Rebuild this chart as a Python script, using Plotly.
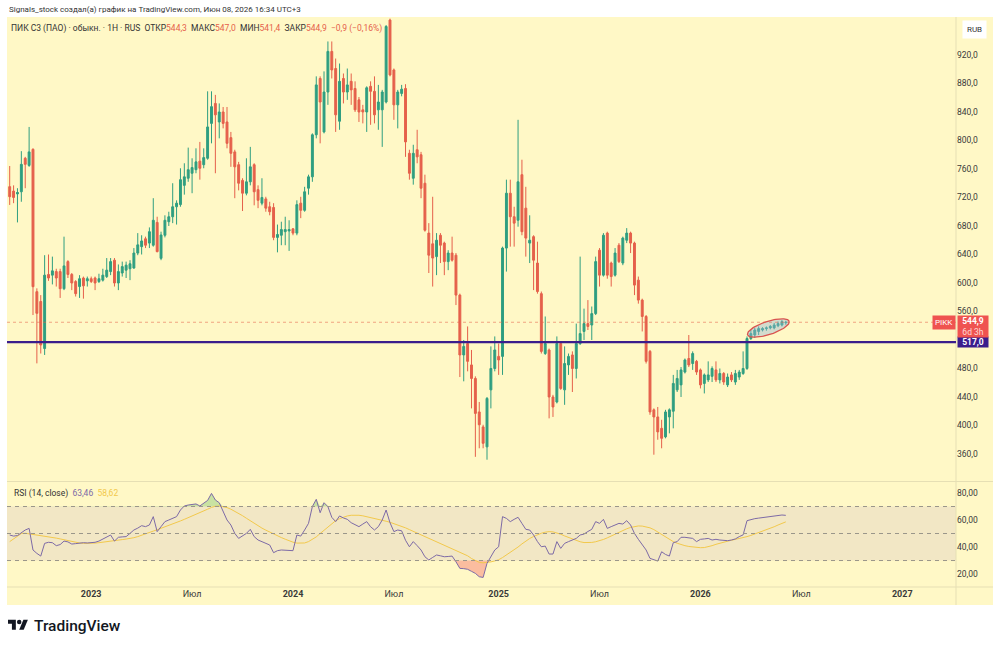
import numpy as np
import pandas as pd
import plotly.graph_objects as go

W, H = 1000, 646

# ---------------- data ----------------
first_week = "2022-08-08"

opens = [735.2, 729, 725, 728, 775, 765, 787.6, 587.8, 574, 508,
         612, 611, 616, 616, 592, 630, 612, 602, 595, 607,
         603, 606, 607, 602, 604, 609, 616, 632, 600, 614,
         618, 620, 621, 642, 651, 662, 656, 653, 685, 634.6,
         667, 686, 693, 707, 710, 737, 747, 754, 759, 771,
         766, 775, 824, 852, 826, 840, 826, 804, 784, 766,
         744, 726, 742, 766, 731, 712, 718, 707, 706, 664,
         667, 672, 673, 676, 670, 712, 702, 733, 749, 808,
         887, 812, 868, 925, 901, 827, 887, 868, 883, 873,
         857, 843, 840, 876, 869, 843, 843, 854, 969, 899,
         850, 866, 873, 782, 747, 787, 780, 740, 670, 655,
         637, 667, 656, 630, 642, 639, 583, 499, 515, 485,
         466, 419, 398, 370, 450, 480, 497, 497, 649, 726,
         693, 688, 752, 705, 656, 665, 628, 585, 501, 506,
         440, 433, 515, 450, 485, 499, 480, 515, 532, 543,
         541, 557, 646, 611, 670, 628, 611, 653, 628, 660,
         670, 656, 604, 576, 553, 504, 422, 412, 396, 384,
         412, 420, 450, 457, 475, 494, 487, 490, 478, 459,
         464, 469, 478, 464, 473, 457, 471, 461, 468, 473,
         480, 522, 527, 532, 534, 536, 537, 537, 540, 541,
         544.3]

highs = [764.2, 737, 733, 785, 777, 819, 789, 592.5, 583, 639,
         640, 637, 620, 620, 665, 632, 614, 604, 611, 609,
         609, 609, 609, 613, 620, 635, 635, 635, 626, 630,
         630, 632, 649, 670, 667, 665, 678, 719, 693, 672,
         695, 700, 740, 716, 761, 768, 790, 775, 789, 798,
         789, 869, 869, 864, 852, 847, 847, 812, 787, 770,
         747, 775, 791, 768, 737, 747, 721, 714, 712, 682,
         686, 693, 688, 677, 716, 721, 735, 752, 810, 890,
         890, 897, 939, 939, 915, 908, 894, 901, 894, 883,
         861, 850, 876, 883, 890, 878, 871, 962, 971, 901,
         871, 878, 879, 787, 794, 815, 784, 752, 684, 721,
         670, 670, 658, 646, 665, 642, 585, 520, 539, 506,
         469, 433, 401, 440, 511, 525, 515, 651, 745, 745,
         707, 829, 773, 735, 695, 667, 658, 588, 553, 508,
         443, 525, 518, 511, 501, 504, 543, 637, 564, 576,
         567, 637, 649, 670, 672, 630, 649, 656, 665, 677,
         672, 658, 609, 578, 555, 506, 424, 426, 408, 422,
         424, 471, 478, 482, 494, 527, 504, 492, 480, 473,
         490, 483, 490, 480, 475, 473, 475, 478, 478, 504,
         525, 534, 537, 539, 538, 539, 541, 544, 546, 548,
         547.0]

lows = [709.5, 712, 685, 714, 733, 763, 555, 487.2, 501, 499,
        603, 598, 595, 579, 590, 607, 590, 581, 579, 578,
        595, 600, 590, 600, 602, 607, 611, 595, 590, 609,
        607, 604, 620, 639, 640, 649, 649, 651, 643, 632,
        664, 680, 684, 682, 707, 724, 742, 726, 754, 745,
        761, 773, 796, 754, 803, 817, 789, 763, 719, 730,
        701, 723, 737, 709, 705, 709, 700, 695, 660, 643,
        653, 653, 645, 667, 667, 691, 700, 724, 742, 803,
        796, 810, 850, 887, 812, 815, 852, 857, 850, 840,
        826, 824, 812, 822, 824, 815, 791, 852, 890, 829,
        817, 862, 777, 745, 738, 768, 719, 672, 614, 595,
        611, 628, 611, 618, 630, 569, 468, 462, 476, 424,
        356, 368, 368, 352, 424, 476, 471, 471, 616, 651,
        651, 679, 667, 637, 628, 590, 585, 501, 499, 410,
        412, 431, 450, 429, 471, 447, 466, 513, 520, 534,
        520, 555, 595, 609, 606, 595, 609, 628, 625, 656,
        642, 583, 571, 532, 487, 415, 359, 380, 368, 382,
        389, 396, 447, 440, 473, 482, 478, 471, 452, 445,
        461, 461, 461, 459, 457, 454, 461, 457, 464, 471,
        478, 520, 523, 527, 532, 533, 535, 535, 538, 539,
        541.4]

closes = [721.1, 720, 727, 766.5, 766.5, 784, 594.8, 557.4, 513, 611,
          607, 617, 607, 592, 624, 612, 600, 585, 606, 596,
          606, 602, 600, 606, 611, 618, 630, 600, 616, 623,
          625, 627, 642, 653.5, 659, 653, 672, 688, 644, 667.4,
          688, 693, 707, 712, 745, 749, 759, 762, 770, 761,
          776, 819, 847.5, 836, 840, 824, 796, 782, 763, 740,
          726, 742, 763, 728, 716, 720, 705, 700, 664, 668,
          675, 675, 675, 670, 710, 702, 728, 749, 808, 878,
          854, 868, 925, 899, 836, 883, 868, 878, 871, 843,
          840, 840, 874, 869, 836, 854, 868, 960, 892, 850,
          868, 872, 798, 754, 782, 777, 733, 674, 639, 635,
          660, 653, 630, 642, 632, 583, 499, 511, 490, 466,
          417, 401, 375, 438, 480, 506, 492, 649, 726, 693,
          684, 742, 672, 663, 660, 632, 588, 504, 515, 440,
          426, 515, 452, 487, 497, 480, 515, 529, 543, 539,
          557, 630, 611, 667, 611, 609, 642, 630, 663, 670,
          656, 597, 576, 553, 490, 419, 412, 391, 382, 419,
          422, 459, 466, 478, 492, 485, 501, 475, 457, 471,
          471, 480, 464, 473, 461, 468, 464, 473, 475, 480,
          522, 529, 534, 536, 536, 537, 539, 541, 543, 545.8,
          544.9]

rsi = [48.9, 48.1, 48.5, 50.6, 52.6, 53.8, 37.8, 35.3, 33.3, 42.7,
       43.5, 43.2, 41.0, 41.8, 44.4, 43.8, 42.2, 42.5, 43.0, 43.2,
       43.0, 43.2, 43.5, 44.4, 45.9, 47.0, 48.9, 44.4, 47.2, 47.5,
       47.7, 50.1, 52.6, 54.0, 55.8, 55.1, 56.3, 62.5, 51.4, 55.1,
       58.8, 60.0, 61.0, 62.5, 67.4, 70.4, 71.1, 71.5, 71.9, 70.4,
       72.8, 74.5, 79.7, 74.8, 72.8, 66.2, 60.0, 56.3, 50.1, 46.4,
       48.0, 50.1, 53.1, 47.7, 45.2, 44.0, 42.7, 41.5, 35.8, 37.3,
       37.8, 37.8, 37.8, 37.3, 48.9, 48.1, 52.6, 57.5, 70.0, 75.3,
       65.4, 72.8, 69.9, 62.0, 58.8, 63.0, 61.5, 60.5, 58.0, 56.5,
       55.1, 57.0, 58.8, 55.0, 52.6, 55.1, 60.0, 67.4, 58.0, 51.4,
       52.6, 52.0, 45.0, 40.2, 44.0, 41.0, 37.8, 32.8, 30.4, 32.3,
       34.1, 33.5, 32.8, 33.0, 33.3, 29.1, 24.2, 24.0, 23.5, 22.0,
       20.5, 18.0, 17.5, 27.9, 33.0, 37.8, 40.2, 62.5, 61.2, 58.8,
       60.5, 62.0, 57.5, 53.1, 52.6, 48.9, 44.0, 40.2, 40.7, 34.8,
       34.8, 44.0, 39.0, 42.7, 44.0, 45.0, 46.4, 48.9, 49.6, 51.5,
       53.1, 58.8, 57.5, 60.5, 53.8, 55.1, 56.5, 57.5, 57.0, 59.5,
       56.3, 50.1, 45.7, 42.0, 37.8, 31.6, 30.5, 29.6, 36.5, 34.5,
       33.3, 43.2, 44.0, 47.2, 47.2, 46.8, 46.4, 44.0, 45.7, 46.0,
       46.4, 45.2, 45.7, 45.2, 44.7, 44.7, 45.2, 46.0, 47.7, 49.0,
       59.5, 60.5, 61.0, 61.4, 61.8, 62.2, 62.6, 62.9, 63.3, 63.7,
       63.46]

rsi_ma = [44.0, 46.0, 48.0, 50.0, 50.2, 49.8, 49.3, 48.8, 48.3, 47.9,
          47.6, 47.2, 46.6, 46.0, 45.3, 44.6, 44.0, 43.5, 43.0, 42.7,
          42.6, 42.7, 42.9, 43.2, 43.5, 43.9, 44.3, 44.7, 45.1, 45.5,
          45.9, 46.3, 46.9, 47.7, 48.6, 49.6, 50.7, 51.8, 52.8, 53.8,
          54.8, 55.9, 57.0, 58.1, 59.3, 60.5, 61.7, 62.9, 64.0, 65.0,
          66.5, 68.0, 69.3, 70.2, 70.4, 70.0, 69.2, 68.0, 66.6, 65.0,
          63.2, 61.3, 59.4, 57.5, 55.7, 54.0, 52.5, 51.0, 49.6, 48.3,
          47.0, 45.8, 44.6, 43.6, 42.9, 42.7, 43.0, 44.0, 45.5, 47.5,
          50.0, 52.5, 55.0, 57.5, 59.5, 61.0, 62.2, 63.0, 63.5, 63.7,
          63.5, 63.1, 62.5, 61.9, 61.3, 60.6, 59.9, 59.1, 58.3, 57.4,
          56.5, 55.4, 54.2, 52.9, 51.6, 50.3, 49.0, 47.7, 46.4, 45.2,
          44.0, 42.8, 41.6, 40.4, 39.1, 37.8, 36.4, 35.0, 33.5, 31.5,
          29.8, 28.6, 28.3, 28.5, 29.0, 29.7, 30.6, 32.2, 34.0, 36.0,
          37.8, 40.0, 42.3, 44.5, 46.3, 47.8, 49.1, 50.2, 51.0, 51.4,
          51.2, 50.5, 49.5, 48.2, 47.0, 45.8, 44.8, 43.9, 43.3, 43.2,
          43.4, 43.9, 44.6, 45.6, 46.8, 48.2, 49.6, 51.0, 52.3, 53.5,
          54.5, 55.2, 55.6, 55.5, 55.0, 54.2, 52.9, 51.2, 49.3, 47.2,
          45.5, 44.0, 42.8, 41.8, 41.0, 40.4, 40.0, 39.7, 39.5, 39.6,
          40.2, 41.0, 42.0, 42.9, 43.6, 44.3, 45.0, 45.6, 46.2, 46.9,
          47.7, 48.6, 49.6, 50.6, 51.6, 52.6, 53.8, 55.0, 56.3, 57.5,
          58.62]

level_517 = 517.0
price_ticks = [360, 400, 440, 480, 560, 600, 640, 680, 720, 760, 800, 840, 880, 920]
rsi_ticks = [20, 40, 60, 80]
rsi_levels = [70, 50, 30]
time_ticks = ["2023-01-02", "2023-07-03", "2024-01-01", "2024-07-01", "2025-01-06",
              "2025-07-07", "2026-01-05", "2026-07-06", "2027-01-04"]
time_labels = ["2023", "Июл", "2024", "Июл", "2025", "Июл", "2026", "Июл", "2027"]

dates = pd.date_range(first_week, periods=len(closes), freq="W-MON")

# ---------------- style / layout constants ----------------
BG = "#fff8c6"
UP = "#2f9e80"
DOWN = "#e5604b"
RED_LBL = "#ef5350"
PURPLE = "#3a1d8c"
RSI_COL = "#7d6aa6"
MA_COL = "#f2c94c"
TXT = "#3a3a3a"
FONT = "Roboto"

PL, PR = 7, 956          # plot left / right (px)
MT, MB = 17, 480         # main pane top / bottom
RT, RB = 483, 587        # rsi pane top / bottom
x_range = [pd.Timestamp("2022-08-03 03:00"), pd.Timestamp("2027-04-11")]
y_range = [323.5, 973.3]
y2_range = [10.4, 87.4]


def px(x):
    return x / W


def py(y):
    return 1 - y / H


def fmt(v, d=1):
    return f"{v:.{d}f}".replace(".", ",").replace("-", "−")


fig = go.Figure()

fig.add_trace(go.Candlestick(
    x=dates, open=opens, high=highs, low=lows, close=closes,
    increasing=dict(line=dict(color=UP, width=1), fillcolor=UP),
    decreasing=dict(line=dict(color=DOWN, width=1), fillcolor=DOWN),
    whiskerwidth=0, xaxis="x", yaxis="y", showlegend=False, hoverinfo="skip"))

# ellipse highlighting the last 10 candles (built from the data in screen-scaled units)
kx = (PR - PL) / ((x_range[1] - x_range[0]).total_seconds() / 86400)
ky = (MB - MT) / (y_range[1] - y_range[0])
days = np.array([(d - dates[0]).days for d in dates], dtype=float)
n_e = 10
ex0, ex1 = days[-n_e] * kx, days[-1] * kx
ey0, ey1 = closes[-n_e] * ky, closes[-1] * ky
cx = (ex0 + ex1) / 2
cy = (np.mean(highs[-n_e:]) + np.mean(lows[-n_e:])) / 2 * ky
theta = np.arctan2(ey1 - ey0, ex1 - ex0)
a_ax = np.hypot(ex1 - ex0, ey1 - ey0) / 2 + 3.5
b_ax = 6.6
t = np.linspace(0, 2 * np.pi, 80)
EX = cx + a_ax * np.cos(t) * np.cos(theta) - b_ax * np.sin(t) * np.sin(theta)
EY = cy + a_ax * np.cos(t) * np.sin(theta) + b_ax * np.sin(t) * np.cos(theta)
ell_x = [dates[0] + pd.Timedelta(days=float(v / kx)) for v in EX]
ell_y = EY / ky
fig.add_trace(go.Scatter(x=ell_x, y=ell_y, mode="lines", fill="toself",
                         fillcolor="rgba(150,180,215,0.42)",
                         line=dict(color="#d9534f", width=1.3),
                         xaxis="x", yaxis="y", showlegend=False, hoverinfo="skip"))

# RSI pane
rsi_arr = np.array(rsi)
fig.add_trace(go.Scatter(x=dates, y=[rsi_levels[0]] * len(rsi), mode="lines", line=dict(width=0),
                         xaxis="x2", yaxis="y2", showlegend=False, hoverinfo="skip"))
fig.add_trace(go.Scatter(x=dates, y=np.maximum(rsi_arr, rsi_levels[0]), mode="lines", line=dict(width=0),
                         fill="tonexty", fillcolor="rgba(76,175,80,0.30)",
                         xaxis="x2", yaxis="y2", showlegend=False, hoverinfo="skip"))
fig.add_trace(go.Scatter(x=dates, y=[rsi_levels[2]] * len(rsi), mode="lines", line=dict(width=0),
                         xaxis="x2", yaxis="y2", showlegend=False, hoverinfo="skip"))
fig.add_trace(go.Scatter(x=dates, y=np.minimum(rsi_arr, rsi_levels[2]), mode="lines", line=dict(width=0),
                         fill="tonexty", fillcolor="rgba(242,54,69,0.30)",
                         xaxis="x2", yaxis="y2", showlegend=False, hoverinfo="skip"))
fig.add_trace(go.Scatter(x=dates, y=rsi_ma, mode="lines", line=dict(color=MA_COL, width=1),
                         xaxis="x2", yaxis="y2", showlegend=False, hoverinfo="skip"))
fig.add_trace(go.Scatter(x=dates, y=rsi, mode="lines", line=dict(color=RSI_COL, width=1),
                         xaxis="x2", yaxis="y2", showlegend=False, hoverinfo="skip"))

shapes = [
    # chart background
    dict(type="rect", xref="paper", yref="paper", x0=px(PL), x1=px(993), y0=py(605), y1=py(MT),
         fillcolor=BG, line=dict(width=0), layer="below"),
    # separators
    dict(type="line", xref="paper", yref="paper", x0=px(PR), x1=px(PR), y0=py(605), y1=py(MT),
         line=dict(color="#e6dfb4", width=1)),
    dict(type="line", xref="paper", yref="paper", x0=px(PL), x1=px(993), y0=py(481.5), y1=py(481.5),
         line=dict(color="#e6dfb4", width=1)),
    dict(type="line", xref="paper", yref="paper", x0=px(PL), x1=px(993), y0=py(RB), y1=py(RB),
         line=dict(color="#e6dfb4", width=1)),
    # RSI band
    dict(type="rect", xref="x2 domain", yref="y2", x0=0, x1=1, y0=rsi_levels[2], y1=rsi_levels[0],
         fillcolor="rgba(126,87,194,0.10)", line=dict(width=0), layer="below"),
    # current price dotted line
    dict(type="line", xref="x domain", yref="y", x0=0, x1=1, y0=closes[-1], y1=closes[-1],
         line=dict(color="rgba(229,96,75,0.55)", width=1, dash="dot")),
    # horizontal level
    dict(type="line", xref="x domain", yref="y", x0=0, x1=1, y0=level_517, y1=level_517,
         line=dict(color=PURPLE, width=2.4)),
]
for lv in rsi_levels:
    shapes.append(dict(type="line", xref="x2 domain", yref="y2", x0=0, x1=1, y0=lv, y1=lv,
                       line=dict(color="#9a968a", width=1, dash="4px,4px")))

# TradingView logo icon (paper coords)
s = 0.56
ox, oy = 8, 617.5


def P(u, v):
    return f"{px(ox + u * s):.5f},{py(oy + v * s):.5f}"


logo_T = "M" + P(0, 4) + " L" + P(14, 4) + " L" + P(14, 22) + " L" + P(7, 22) + " L" + P(7, 11) + " L" + P(0, 11) + " Z"
logo_7 = "M" + P(20, 22) + " L" + P(27.5, 4) + " L" + P(35.5, 4) + " L" + P(28, 22) + " Z"
shapes.append(dict(type="path", xref="paper", yref="paper", path=logo_T, fillcolor="#131722", line=dict(width=0)))
shapes.append(dict(type="path", xref="paper", yref="paper", path=logo_7, fillcolor="#131722", line=dict(width=0)))
shapes.append(dict(type="circle", xref="paper", yref="paper",
                   x0=px(ox + 16 * s), x1=px(ox + 24 * s), y0=py(oy + 12 * s), y1=py(oy + 4 * s),
                   fillcolor="#131722", line=dict(width=0)))

chg = closes[-1] - closes[-2]
chg_pct = chg / closes[-2] * 100


def red(v):
    return f'<span style="color:{DOWN}">{v}</span>'


nb = "\u00a0"
legend_text = (f"ПИК С3 (ПАО) · обыкн. · 1H · RUS{nb}{nb}ОТКР{red(fmt(opens[-1]))}{nb}{nb}"
               f"МАКС{red(fmt(highs[-1]))}{nb}{nb}МИН{red(fmt(lows[-1]))}{nb}{nb}"
               f"ЗАКР{red(fmt(closes[-1]))}{nb}{nb}{red(fmt(chg) + ' (' + fmt(chg_pct, 2) + '%)')}")

annotations = [
    dict(xref="paper", yref="paper", x=px(7), y=py(9), xanchor="left", yanchor="middle", showarrow=False,
         text="Signals_stock создал(а) график на TradingView.com, Июн 08, 2026 16:34 UTC+3",
         font=dict(family=FONT, size=8, color="#333333")),
    dict(xref="paper", yref="paper", x=px(9), y=py(29), xanchor="left", yanchor="middle", showarrow=False,
         text=legend_text, font=dict(family=FONT, size=8.5, color="#333333")),
    dict(xref="paper", yref="paper", x=px(974), y=py(30), xanchor="center", yanchor="middle", showarrow=False,
         text="RUB", bgcolor="#ffffff", borderpad=4, font=dict(family=FONT, size=8, color="#333333")),
    dict(xref="paper", yref="y", x=px(PR), y=closes[-1], xanchor="right", yanchor="middle", showarrow=False,
         text="PIKK", bgcolor=RED_LBL, borderpad=2, font=dict(family=FONT, size=8, color="#ffffff")),
    dict(xref="paper", yref="y", x=px(PR + 1), y=level_517, xanchor="left", yanchor="middle", showarrow=False,
         width=30, align="center", text=f"<b>{fmt(level_517)}</b>", bgcolor=PURPLE, borderpad=0,
         font=dict(family=FONT, size=8.5, color="#ffffff")),
    dict(xref="paper", yref="y", x=px(PR + 1), y=closes[-1], xanchor="left", yanchor="top", yshift=7,
         showarrow=False, width=30, align="center",
         text=f"<b>{fmt(closes[-1])}</b><br><span style='color:#ffd9d6'>6d 3h</span>",
         bgcolor=RED_LBL, borderpad=0, font=dict(family=FONT, size=8.5, color="#ffffff")),
    dict(xref="paper", yref="paper", x=px(12), y=py(493), xanchor="left", yanchor="middle", showarrow=False,
         text=(f"RSI (14, close){nb}{nb}<span style='color:{RSI_COL}'>{fmt(rsi[-1], 2)}</span>{nb}{nb}"
               f"<span style='color:{MA_COL}'>{fmt(rsi_ma[-1], 2)}</span>"),
         font=dict(family=FONT, size=8.5, color="#333333")),
    dict(xref="paper", yref="paper", x=px(32), y=py(626), xanchor="left", yanchor="middle", showarrow=False,
         text="TradingView", font=dict(family=FONT, size=15.5, color="#131722", weight=500)),
]

tick_text_time = [f"<b>{l}</b>" if l.isdigit() else l for l in time_labels]

fig.update_layout(
    width=W, height=H, margin=dict(l=0, r=0, t=0, b=0),
    paper_bgcolor="#ffffff", plot_bgcolor=BG,
    showlegend=False, hovermode=False,
    shapes=shapes, annotations=annotations,
    font=dict(family=FONT, size=8.5, color=TXT),
    xaxis=dict(domain=[px(PL), px(PR)], range=x_range, type="date", anchor="y",
               showticklabels=False, showgrid=False, zeroline=False, showline=False, ticks="",
               rangeslider=dict(visible=False), fixedrange=True),
    xaxis2=dict(domain=[px(PL), px(PR)], matches="x", type="date", anchor="y2",
                tickvals=time_ticks, ticktext=tick_text_time, tickfont=dict(family=FONT, size=9, color=TXT),
                showgrid=False, zeroline=False, showline=False, ticks="", ticklen=0),
    yaxis=dict(domain=[py(MB), py(MT)], range=y_range, side="right", anchor="x",
               tickvals=price_ticks, ticktext=[fmt(v) for v in price_ticks],
               tickfont=dict(family=FONT, size=8.5, color=TXT),
               showgrid=False, zeroline=False, showline=False, ticks=""),
    yaxis2=dict(domain=[py(RB), py(RT)], range=y2_range, side="right", anchor="x2",
                tickvals=rsi_ticks, ticktext=[fmt(v, 2) for v in rsi_ticks],
                tickfont=dict(family=FONT, size=8.5, color=TXT),
                showgrid=False, zeroline=False, showline=False, ticks=""),
)

fig.write_html("out.html")
